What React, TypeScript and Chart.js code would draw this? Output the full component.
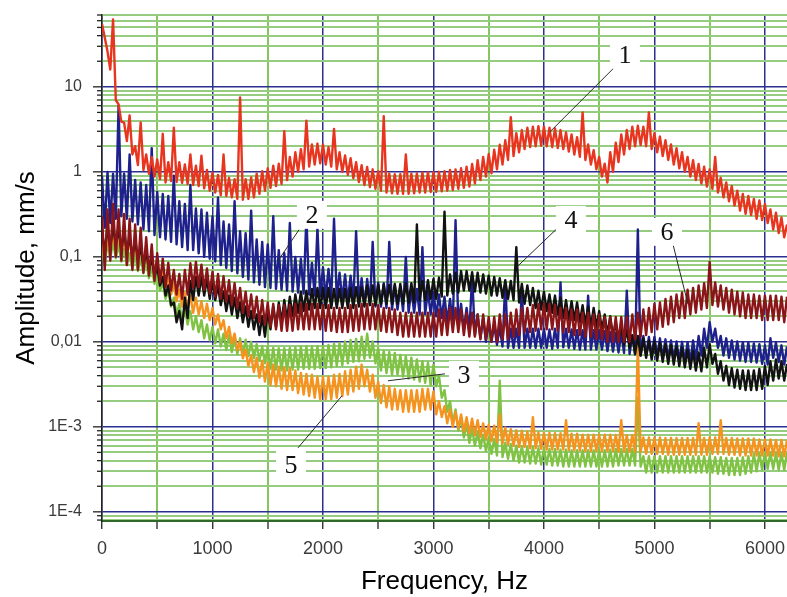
import { useEffect, useRef } from "react";
import { Chart, registerables } from "chart.js";

Chart.register(...registerables);

// Frequency grid, Hz
const frequencies = [
  0, 25, 50, 75, 100, 125, 150, 175, 200, 225, 250, 275, 300, 325, 350, 375, 400, 425, 450, 475,
  500, 525, 550, 575, 600, 625, 650, 675, 700, 725, 750, 775, 800, 825, 850, 875, 900, 925, 950, 975,
  1000, 1025, 1050, 1075, 1100, 1125, 1150, 1175, 1200, 1225, 1250, 1275, 1300, 1325, 1350, 1375, 1400, 1425, 1450, 1475,
  1500, 1525, 1550, 1575, 1600, 1625, 1650, 1675, 1700, 1725, 1750, 1775, 1800, 1825, 1850, 1875, 1900, 1925, 1950, 1975,
  2000, 2025, 2050, 2075, 2100, 2125, 2150, 2175, 2200, 2225, 2250, 2275, 2300, 2325, 2350, 2375, 2400, 2425, 2450, 2475,
  2500, 2525, 2550, 2575, 2600, 2625, 2650, 2675, 2700, 2725, 2750, 2775, 2800, 2825, 2850, 2875, 2900, 2925, 2950, 2975,
  3000, 3025, 3050, 3075, 3100, 3125, 3150, 3175, 3200, 3225, 3250, 3275, 3300, 3325, 3350, 3375, 3400, 3425, 3450, 3475,
  3500, 3525, 3550, 3575, 3600, 3625, 3650, 3675, 3700, 3725, 3750, 3775, 3800, 3825, 3850, 3875, 3900, 3925, 3950, 3975,
  4000, 4025, 4050, 4075, 4100, 4125, 4150, 4175, 4200, 4225, 4250, 4275, 4300, 4325, 4350, 4375, 4400, 4425, 4450, 4475,
  4500, 4525, 4550, 4575, 4600, 4625, 4650, 4675, 4700, 4725, 4750, 4775, 4800, 4825, 4850, 4875, 4900, 4925, 4950, 4975,
  5000, 5025, 5050, 5075, 5100, 5125, 5150, 5175, 5200, 5225, 5250, 5275, 5300, 5325, 5350, 5375, 5400, 5425, 5450, 5475,
  5500, 5525, 5550, 5575, 5600, 5625, 5650, 5675, 5700, 5725, 5750, 5775, 5800, 5825, 5850, 5875, 5900, 5925, 5950, 5975,
  6000, 6025, 6050, 6075, 6100, 6125, 6150, 6175, 6200,
];

// Amplitudes, mm/s
const curve1 = [
  55, 38, 26, 16, 62, 7, 6.2, 3.9, 3.8, 2.3, 4.6, 1.6, 2.0, 1.2, 3.8, 1.05, 1.6, 0.95, 1.5, 0.88,
  1.4, 0.82, 2.8, 0.75, 1.3, 0.78, 3.3, 0.76, 1.3, 0.74, 1.22, 0.72, 1.6, 0.7, 1.18, 0.68, 1.55, 0.64, 1.05, 0.6,
  0.98, 0.57, 0.92, 0.53, 1.6, 0.52, 0.85, 0.5, 0.82, 0.48, 7.5, 0.47, 0.82, 0.48, 0.86, 0.5, 0.95, 0.55, 1.02, 0.6,
  1.1, 0.65, 1.18, 0.68, 1.25, 0.72, 3.0, 0.8, 1.5, 0.88, 1.7, 1.0, 1.85, 1.07, 4.0, 1.15, 2.1, 1.22, 2.15, 1.26,
  2.1, 1.22, 1.95, 1.15, 3.2, 1.07, 1.7, 1.0, 1.56, 0.92, 1.45, 0.84, 1.3, 0.76, 1.2, 0.7, 1.14, 0.66, 1.07, 0.63,
  1.02, 0.6, 4.5, 0.57, 0.95, 0.56, 0.94, 0.55, 0.94, 0.55, 1.6, 0.55, 0.95, 0.56, 0.96, 0.57, 0.98, 0.57, 0.99, 0.58,
  0.99, 0.58, 1.0, 0.59, 1.02, 0.6, 1.05, 0.61, 1.07, 0.63, 1.1, 0.65, 1.15, 0.67, 1.24, 0.73, 1.37, 0.8, 1.5, 0.88,
  1.62, 0.96, 1.82, 1.07, 2.08, 1.22, 2.35, 1.38, 4.4, 1.53, 2.85, 1.7, 3.1, 1.85, 3.3, 1.95, 3.4, 2.0, 3.45, 2.03,
  3.4, 2.0, 3.3, 1.95, 3.25, 1.9, 3.1, 1.85, 2.9, 1.73, 2.75, 1.6, 2.55, 1.5, 5.0, 1.38, 2.1, 1.22, 1.8, 1.07,
  1.5, 0.88, 1.25, 0.75, 1.7, 1.0, 2.2, 1.3, 2.75, 1.6, 3.1, 1.85, 3.4, 2.0, 3.5, 2.07, 3.4, 2.0, 5.0, 1.85,
  2.85, 1.7, 2.6, 1.53, 2.35, 1.38, 2.1, 1.22, 1.9, 1.1, 1.7, 1.0, 1.5, 0.88, 1.37, 0.8, 1.24, 0.73, 1.15, 0.67,
  1.07, 0.63, 1.5, 0.57, 0.85, 0.5, 0.75, 0.45, 0.68, 0.4, 0.6, 0.35, 0.55, 0.32, 0.52, 0.31, 0.48, 0.28, 0.46, 0.27,
  0.42, 0.25, 0.36, 0.21, 0.33, 0.19, 0.29, 0.17, 0.24,
];

const curve2 = [
  0.9, 0.22, 1.0, 0.25, 0.95, 0.28, 6.0, 0.3, 0.95, 0.28, 1.6, 0.26, 0.8, 0.24, 0.75, 0.21, 0.7, 0.2, 1.9, 0.18,
  0.58, 0.17, 0.55, 0.16, 0.52, 0.15, 0.9, 0.14, 0.45, 0.13, 0.42, 0.12, 0.7, 0.12, 0.37, 0.11, 0.36, 0.1, 0.33, 0.095,
  0.3, 0.088, 0.5, 0.08, 0.26, 0.074, 0.24, 0.068, 0.45, 0.064, 0.2, 0.058, 0.19, 0.054, 0.35, 0.05, 0.16, 0.047, 0.15, 0.044,
  0.14, 0.043, 0.3, 0.042, 0.12, 0.041, 0.11, 0.04, 0.25, 0.039, 0.1, 0.038, 0.095, 0.037, 0.3, 0.036, 0.085, 0.035, 0.22, 0.034,
  0.075, 0.033, 0.072, 0.033, 0.28, 0.032, 0.065, 0.031, 0.062, 0.03, 0.06, 0.03, 0.2, 0.028, 0.056, 0.027, 0.055, 0.027, 0.15, 0.026,
  0.05, 0.026, 0.049, 0.025, 0.15, 0.024, 0.046, 0.024, 0.045, 0.023, 0.1, 0.022, 0.042, 0.022, 0.042, 0.021, 0.13, 0.021, 0.04, 0.021,
  0.039, 0.02, 0.036, 0.019, 0.034, 0.017, 0.032, 0.016, 0.27, 0.016, 0.028, 0.014, 0.025, 0.013, 0.06, 0.012, 0.021, 0.011, 0.019, 0.01,
  0.017, 0.01, 0.016, 0.0092, 0.015, 0.0088, 0.05, 0.0085, 0.0143, 0.0085, 0.0143, 0.0085, 0.04, 0.0085, 0.0143, 0.0085, 0.0143, 0.0085, 0.0143, 0.0085,
  0.0143, 0.0085, 0.014, 0.0083, 0.0143, 0.0085, 0.05, 0.0086, 0.0143, 0.0085, 0.014, 0.0083, 0.0137, 0.0081, 0.0137, 0.0081, 0.035, 0.0081, 0.0137, 0.0081,
  0.0137, 0.0081, 0.0133, 0.0078, 0.013, 0.0077, 0.0127, 0.0075, 0.0125, 0.0074, 0.04, 0.0072, 0.012, 0.0071, 0.21, 0.0069, 0.0117, 0.0069, 0.0114, 0.0068,
  0.0114, 0.0068, 0.011, 0.0065, 0.0107, 0.0063, 0.0104, 0.0062, 0.0101, 0.006, 0.01, 0.0059, 0.0099, 0.0058, 0.0104, 0.0062, 0.0117, 0.0069, 0.0143, 0.0085,
  0.017, 0.01, 0.0143, 0.0085, 0.0117, 0.0069, 0.011, 0.0065, 0.0104, 0.0062, 0.0101, 0.006, 0.0099, 0.0058, 0.0098, 0.0058, 0.0096, 0.0057, 0.0094, 0.0055,
  0.0091, 0.0054, 0.011, 0.0065, 0.0098, 0.0058, 0.0091, 0.0054, 0.0088,
];

const curve3 = [
  0.125, 0.08, 0.15, 0.096, 0.15, 0.096, 0.14, 0.088, 0.125, 0.08, 0.11, 0.072, 0.106, 0.068, 0.1, 0.064, 0.088, 0.056, 0.075, 0.048,
  0.063, 0.04, 0.05, 0.032, 0.04, 0.026, 0.033, 0.021, 0.028, 0.018, 0.025, 0.016, 0.023, 0.014, 0.02, 0.013, 0.018, 0.011, 0.016, 0.0104,
  0.015, 0.0096, 0.014, 0.0088, 0.0125, 0.008, 0.012, 0.0076, 0.0113, 0.0072, 0.011, 0.007, 0.0106, 0.0068, 0.01, 0.0064, 0.0094, 0.006, 0.0088, 0.0056,
  0.0088, 0.0048, 0.0085, 0.0047, 0.0084, 0.0046, 0.0084, 0.0046, 0.0085, 0.0047, 0.0086, 0.0047, 0.0088, 0.0048, 0.0088, 0.0048, 0.0088, 0.0048, 0.0089, 0.0049,
  0.0089, 0.0049, 0.0092, 0.005, 0.0095, 0.0052, 0.0097, 0.0053, 0.0101, 0.0056, 0.0105, 0.0058, 0.0108, 0.0059, 0.0115, 0.0063, 0.0125, 0.0065, 0.0101, 0.0056,
  0.0084, 0.0046, 0.0078, 0.0043, 0.0076, 0.0041, 0.0074, 0.0041, 0.007, 0.0039, 0.0068, 0.0037, 0.0065, 0.0036, 0.0062, 0.0034, 0.0059, 0.0033, 0.0057, 0.0031,
  0.0054, 0.003, 0.004, 0.0022, 0.0027, 0.0015, 0.002, 0.0011, 0.0016, 0.0009, 0.0013, 0.00075, 0.0011, 0.00065, 0.00095, 0.0006, 0.00088, 0.00056, 0.00081, 0.00052,
  0.00075, 0.00048, 0.00072, 0.00046, 0.0035, 0.00044, 0.00065, 0.00042, 0.00063, 0.0004, 0.0006, 0.00038, 0.00059, 0.00038, 0.00058, 0.00037, 0.00058, 0.00037, 0.00056, 0.00036,
  0.00056, 0.00036, 0.00055, 0.00035, 0.00055, 0.00035, 0.00054, 0.00034, 0.00054, 0.00034, 0.00053, 0.00034, 0.00053, 0.00034, 0.00053, 0.00034, 0.00053, 0.00034, 0.00053, 0.00034,
  0.00053, 0.00034, 0.00053, 0.00034, 0.00054, 0.00034, 0.00055, 0.00035, 0.00055, 0.00035, 0.00055, 0.00035, 0.00055, 0.00035, 0.0022, 0.00034, 0.00045, 0.00029, 0.00045, 0.00029,
  0.00045, 0.00029, 0.00045, 0.00029, 0.00045, 0.00029, 0.00045, 0.00029, 0.00045, 0.00029, 0.00045, 0.00029, 0.00045, 0.00029, 0.00045, 0.00029, 0.00045, 0.00029, 0.00045, 0.00029,
  0.00045, 0.00029, 0.00044, 0.00028, 0.00044, 0.00028, 0.00043, 0.00027, 0.00043, 0.00027, 0.00043, 0.00027, 0.00044, 0.00028, 0.00045, 0.00029, 0.00048, 0.0003, 0.00049, 0.00031,
  0.0005, 0.00032, 0.0005, 0.00032, 0.00049, 0.00031, 0.00049, 0.00031, 0.0005,
];

const curve4 = [
  0.2, 0.115, 0.22, 0.13, 0.23, 0.14, 0.21, 0.12, 0.2, 0.115, 0.17, 0.1, 0.16, 0.092, 0.13, 0.077, 0.12, 0.069, 0.098, 0.058,
  0.078, 0.046, 0.058, 0.035, 0.046, 0.027, 0.029, 0.017, 0.023, 0.014, 0.033, 0.019, 0.052, 0.031, 0.058, 0.035, 0.058, 0.035, 0.055, 0.032,
  0.052, 0.031, 0.046, 0.027, 0.039, 0.023, 0.035, 0.021, 0.033, 0.019, 0.029, 0.017, 0.026, 0.015, 0.023, 0.014, 0.021, 0.012, 0.02, 0.0115,
  0.023, 0.014, 0.026, 0.015, 0.029, 0.017, 0.031, 0.018, 0.034, 0.02, 0.036, 0.022, 0.039, 0.023, 0.04, 0.024, 0.042, 0.025, 0.043, 0.025,
  0.043, 0.025, 0.043, 0.025, 0.042, 0.025, 0.042, 0.025, 0.042, 0.025, 0.043, 0.025, 0.044, 0.026, 0.044, 0.026, 0.046, 0.027, 0.046, 0.027,
  0.047, 0.028, 0.047, 0.028, 0.047, 0.028, 0.048, 0.028, 0.048, 0.028, 0.049, 0.029, 0.049, 0.029, 0.24, 0.031, 0.052, 0.031, 0.053, 0.032,
  0.055, 0.032, 0.057, 0.034, 0.34, 0.035, 0.062, 0.037, 0.065, 0.038, 0.068, 0.04, 0.068, 0.04, 0.066, 0.039, 0.065, 0.038, 0.062, 0.037,
  0.06, 0.035, 0.058, 0.035, 0.056, 0.033, 0.053, 0.032, 0.052, 0.031, 0.13, 0.029, 0.048, 0.028, 0.046, 0.027, 0.043, 0.025, 0.04, 0.024,
  0.039, 0.023, 0.036, 0.022, 0.035, 0.021, 0.033, 0.019, 0.031, 0.018, 0.03, 0.018, 0.029, 0.017, 0.027, 0.016, 0.026, 0.015, 0.025, 0.015,
  0.023, 0.014, 0.021, 0.012, 0.02, 0.0115, 0.017, 0.01, 0.016, 0.0092, 0.014, 0.0085, 0.012, 0.0073, 0.0117, 0.0069, 0.011, 0.0065, 0.0104, 0.0062,
  0.0101, 0.006, 0.0098, 0.0058, 0.0094, 0.0055, 0.0091, 0.0054, 0.0088, 0.0052, 0.0085, 0.005, 0.0081, 0.0048, 0.0078, 0.0046, 0.0075, 0.0045, 0.0085, 0.005,
  0.0094, 0.0055, 0.0072, 0.0042, 0.0059, 0.0035, 0.0052, 0.0031, 0.0049, 0.0029, 0.0047, 0.0028, 0.0046, 0.0027, 0.0046, 0.0027, 0.0046, 0.0027, 0.0048, 0.0028,
  0.0052, 0.0031, 0.0059, 0.0035, 0.0062, 0.0037, 0.0059, 0.0035, 0.0055,
];

const curve5 = [
  0.15, 0.096, 0.175, 0.112, 0.19, 0.12, 0.175, 0.112, 0.16, 0.104, 0.15, 0.096, 0.14, 0.088, 0.125, 0.08, 0.11, 0.072, 0.1, 0.064,
  0.081, 0.052, 0.069, 0.044, 0.056, 0.036, 0.048, 0.03, 0.041, 0.026, 0.038, 0.024, 0.035, 0.022, 0.033, 0.021, 0.03, 0.019, 0.028, 0.018,
  0.025, 0.016, 0.021, 0.014, 0.018, 0.011, 0.015, 0.0096, 0.0125, 0.008, 0.01, 0.0064, 0.0081, 0.0052, 0.0069, 0.0044, 0.0065, 0.0038, 0.006, 0.0034,
  0.0057, 0.0031, 0.0054, 0.003, 0.0051, 0.0028, 0.005, 0.0027, 0.0049, 0.0027, 0.0046, 0.0025, 0.0043, 0.0024, 0.0042, 0.0023, 0.0041, 0.0022, 0.0039, 0.0021,
  0.0039, 0.0021, 0.0039, 0.0021, 0.0041, 0.0022, 0.0042, 0.0023, 0.0045, 0.0024, 0.0047, 0.0026, 0.0051, 0.0028, 0.0054, 0.003, 0.0047, 0.0026, 0.0041, 0.0022,
  0.0034, 0.0019, 0.0031, 0.0017, 0.003, 0.0016, 0.0028, 0.0016, 0.0027, 0.0015, 0.0027, 0.0015, 0.0027, 0.0015, 0.0027, 0.0015, 0.0028, 0.0016, 0.0028, 0.0016,
  0.0026, 0.0014, 0.002, 0.0013, 0.00175, 0.0011, 0.0016, 0.001, 0.0015, 0.00096, 0.0014, 0.00088, 0.0013, 0.00084, 0.00125, 0.0008, 0.0012, 0.00076, 0.0011, 0.00072,
  0.00106, 0.00068, 0.00103, 0.00066, 0.0014, 0.00064, 0.00098, 0.00062, 0.00094, 0.0006, 0.00091, 0.00058, 0.0009, 0.00058, 0.00088, 0.00056, 0.0013, 0.00056, 0.00086, 0.00055,
  0.00085, 0.00054, 0.00085, 0.00054, 0.00084, 0.00054, 0.00084, 0.00054, 0.0012, 0.00053, 0.00083, 0.00053, 0.00083, 0.00053, 0.00081, 0.00052, 0.00081, 0.00052, 0.00081, 0.00052,
  0.00081, 0.00052, 0.00081, 0.00052, 0.00081, 0.00052, 0.0008, 0.00051, 0.0012, 0.00051, 0.0008, 0.00051, 0.0008, 0.00051, 0.0095, 0.00051, 0.00075, 0.00048, 0.00075, 0.00048,
  0.00075, 0.00048, 0.00075, 0.00048, 0.00074, 0.00047, 0.00074, 0.00047, 0.00074, 0.00047, 0.00074, 0.00047, 0.00074, 0.00047, 0.00074, 0.00047, 0.0011, 0.00047, 0.00074, 0.00047,
  0.00075, 0.00048, 0.00075, 0.00048, 0.0012, 0.00048, 0.00074, 0.00047, 0.00074, 0.00047, 0.00073, 0.00046, 0.00073, 0.00046, 0.00073, 0.00046, 0.00073, 0.00046, 0.00071, 0.00046,
  0.00071, 0.00046, 0.00071, 0.00046, 0.0007, 0.00045, 0.0007, 0.00045, 0.0007,
];

const curve6 = [
  0.3, 0.07, 0.36, 0.09, 0.42, 0.1, 0.36, 0.09, 0.32, 0.08, 0.28, 0.07, 0.24, 0.07, 0.22, 0.065, 0.17, 0.06, 0.14, 0.052,
  0.11, 0.05, 0.095, 0.044, 0.085, 0.04, 0.07, 0.036, 0.063, 0.032, 0.07, 0.036, 0.084, 0.043, 0.087, 0.044, 0.081, 0.041, 0.073, 0.037,
  0.067, 0.034, 0.063, 0.032, 0.059, 0.03, 0.053, 0.027, 0.049, 0.025, 0.043, 0.022, 0.039, 0.02, 0.036, 0.019, 0.034, 0.017, 0.031, 0.016,
  0.029, 0.015, 0.028, 0.014, 0.027, 0.0135, 0.027, 0.0135, 0.027, 0.0135, 0.028, 0.014, 0.028, 0.014, 0.028, 0.014, 0.028, 0.014, 0.028, 0.014,
  0.027, 0.0135, 0.027, 0.0135, 0.025, 0.013, 0.025, 0.013, 0.025, 0.013, 0.027, 0.0135, 0.027, 0.0135, 0.028, 0.014, 0.028, 0.014, 0.028, 0.014,
  0.027, 0.0135, 0.025, 0.013, 0.025, 0.013, 0.024, 0.012, 0.022, 0.0115, 0.022, 0.0115, 0.022, 0.0115, 0.022, 0.0115, 0.022, 0.0115, 0.022, 0.0115,
  0.022, 0.0115, 0.024, 0.012, 0.024, 0.012, 0.025, 0.013, 0.025, 0.013, 0.024, 0.012, 0.022, 0.0115, 0.022, 0.0115, 0.021, 0.0107, 0.021, 0.0107,
  0.0196, 0.01, 0.0196, 0.01, 0.021, 0.0107, 0.021, 0.0107, 0.022, 0.0115, 0.024, 0.012, 0.025, 0.013, 0.025, 0.013, 0.027, 0.0135, 0.028, 0.014,
  0.028, 0.014, 0.028, 0.014, 0.027, 0.0135, 0.025, 0.013, 0.025, 0.013, 0.024, 0.012, 0.024, 0.012, 0.022, 0.0115, 0.022, 0.0115, 0.021, 0.0107,
  0.021, 0.0107, 0.0196, 0.01, 0.0196, 0.01, 0.0196, 0.01, 0.0196, 0.01, 0.0196, 0.01, 0.021, 0.0107, 0.022, 0.0115, 0.024, 0.012, 0.025, 0.013,
  0.028, 0.014, 0.029, 0.015, 0.032, 0.016, 0.034, 0.017, 0.036, 0.019, 0.038, 0.019, 0.041, 0.021, 0.043, 0.022, 0.046, 0.024, 0.049, 0.025,
  0.087, 0.027, 0.05, 0.026, 0.046, 0.024, 0.043, 0.022, 0.041, 0.021, 0.039, 0.02, 0.038, 0.019, 0.036, 0.019, 0.036, 0.019, 0.035, 0.018,
  0.035, 0.018, 0.035, 0.018, 0.035, 0.018, 0.034, 0.017, 0.034,
];

// Drawing order: first is on top
const curveNames = ["1", "6", "4", "2", "5", "3"];
const curveValues = [curve1, curve6, curve4, curve2, curve5, curve3];
const curveColors = ["#e8351f", "#8a1518", "#121212", "#1e208c", "#f6921e", "#80c243"];

// Axis ticks
const xTickValues = [0, 500, 1000, 1500, 2000, 2500, 3000, 3500, 4000, 4500, 5000, 5500, 6000];
const yTickValues = [
  8e-5, 9e-5,
  1e-4, 2e-4, 3e-4, 4e-4, 5e-4, 6e-4, 7e-4, 8e-4, 9e-4,
  1e-3, 2e-3, 3e-3, 4e-3, 5e-3, 6e-3, 7e-3, 8e-3, 9e-3,
  0.01, 0.02, 0.03, 0.04, 0.05, 0.06, 0.07, 0.08, 0.09,
  0.1, 0.2, 0.3, 0.4, 0.5, 0.6, 0.7, 0.8, 0.9,
  1, 2, 3, 4, 5, 6, 7, 8, 9,
  10, 20, 30, 40, 50, 60, 70,
];
const yLabelValues = [1e-4, 1e-3, 0.01, 0.1, 1, 10];
const yLabelTexts = ["1E-4", "1E-3", "0,01", "0,1", "1", "10"];

// Curve number callouts (data coordinates)
const calloutTexts = ["1", "2", "3", "4", "5", "6"];
const calloutFreq = [4733, 1900, 3276, 4244, 1710, 5113];
const calloutAmp = [23.8, 0.312, 0.00409, 0.272, 0.000357, 0.197];
const leaderFromFreq = [4643, 1783, 3104, 4154, 1774, 5167];
const leaderFromAmp = [17.2, 0.208, 0.0042, 0.238, 0.000566, 0.142];
const leaderToFreq = [4054, 1593, 2588, 3756, 2172, 5303];
const leaderToAmp = [2.95, 0.0897, 0.00348, 0.0763, 0.00232, 0.028];

const SANS = '"Liberation Sans", Arial, sans-serif';
const SERIF = '"Liberation Serif", "Times New Roman", serif';

const yTickMarks = {
  id: "yTickMarks",
  afterDraw(chart: any) {
    const { ctx, chartArea } = chart;
    const y = chart.scales.y;
    ctx.save();
    ctx.strokeStyle = "#222";
    ctx.lineWidth = 1.3;
    y.ticks.forEach((t: any) => {
      const py = y.getPixelForValue(t.value);
      const len = yLabelValues.includes(t.value) ? 9 : 5;
      ctx.beginPath();
      ctx.moveTo(chartArea.left - len, py);
      ctx.lineTo(chartArea.left, py);
      ctx.stroke();
    });
    ctx.restore();
  },
};

const callouts = {
  id: "callouts",
  afterDatasetsDraw(chart: any) {
    const { ctx } = chart;
    const { x, y } = chart.scales;
    ctx.save();
    ctx.strokeStyle = "#2a2a2a";
    ctx.lineWidth = 1;
    for (let i = 0; i < calloutTexts.length; i++) {
      ctx.beginPath();
      ctx.moveTo(x.getPixelForValue(leaderFromFreq[i]), y.getPixelForValue(leaderFromAmp[i]));
      ctx.lineTo(x.getPixelForValue(leaderToFreq[i]), y.getPixelForValue(leaderToAmp[i]));
      ctx.stroke();
    }
    ctx.font = `26px ${SERIF}`;
    ctx.textAlign = "center";
    ctx.textBaseline = "middle";
    for (let i = 0; i < calloutTexts.length; i++) {
      const px = x.getPixelForValue(calloutFreq[i]);
      const py = y.getPixelForValue(calloutAmp[i]);
      ctx.fillStyle = "#ffffff";
      ctx.fillRect(px - 15, py - 14, 30, 28);
      ctx.fillStyle = "#111";
      ctx.fillText(calloutTexts[i], px, py + 1);
    }
    ctx.restore();
  },
};

export default function App() {
  const canvasRef = useRef<HTMLCanvasElement | null>(null);

  useEffect(() => {
    const canvas = canvasRef.current;
    if (!canvas) return;
    const chart = new Chart(canvas, {
      type: "line",
      data: {
        datasets: curveValues.map((vals, k) => ({
          label: curveNames[k],
          data: frequencies.map((f, i) => ({ x: f, y: vals[i] })),
          borderColor: curveColors[k],
          backgroundColor: curveColors[k],
          borderWidth: 2.4,
          borderJoinStyle: "round" as const,
          pointRadius: 0,
          tension: 0,
          fill: false,
        })),
      },
      options: {
        animation: false,
        responsive: false,
        events: [],
        layout: { padding: { top: 15, right: 0, left: 0, bottom: 0 } },
        plugins: {
          legend: { display: false },
          tooltip: { enabled: false },
        },
        scales: {
          x: {
            type: "linear",
            min: 0,
            max: 6200,
            afterBuildTicks: (scale: any) => {
              scale.ticks = xTickValues.map((v) => ({ value: v }));
            },
            afterFit: (scale: any) => {
              scale.height = 76;
              scale.paddingLeft = 0;
              scale.paddingRight = 0;
            },
            ticks: {
              autoSkip: false,
              maxRotation: 0,
              padding: 9,
              color: "#3a3a3a",
              font: { family: SANS, size: 18 },
              callback: (v: any) => (Number(v) % 1000 === 0 ? String(v) : ""),
            },
            grid: {
              color: (c: any) => (c.tick && c.tick.value % 1000 === 0 ? "#2b2f8f" : "#86c560"),
              lineWidth: (c: any) => (c.tick && c.tick.value % 1000 === 0 ? 1.5 : 2),
              drawTicks: true,
              tickLength: 8,
              tickColor: "#222",
              tickWidth: 1.3,
            },
            border: { display: true, color: "#2f6a2a", width: 2 },
            title: {
              display: true,
              text: "Frequency, Hz",
              color: "#000",
              font: { family: SANS, size: 26 },
              padding: { top: 0, bottom: 0 },
            },
          },
          y: {
            type: "logarithmic",
            min: 7.8e-5,
            max: 70,
            afterBuildTicks: (scale: any) => {
              scale.ticks = yTickValues.map((v) => ({ value: v }));
            },
            afterFit: (scale: any) => {
              scale.width = 102;
              scale.paddingTop = 0;
              scale.paddingBottom = 0;
            },
            ticks: {
              autoSkip: false,
              padding: 20,
              color: "#3a3a3a",
              font: { family: SANS, size: 16 },
              callback: (v: any) => {
                const k = yLabelValues.indexOf(Number(v));
                return k >= 0 ? yLabelTexts[k] : "";
              },
            },
            grid: {
              color: (c: any) => (c.tick && yLabelValues.includes(c.tick.value) ? "#2b2f8f" : "#95cc80"),
              lineWidth: (c: any) => (c.tick && yLabelValues.includes(c.tick.value) ? 1.5 : 2),
              drawTicks: false,
            },
            border: { display: true, color: "#222", width: 1.5 },
            title: {
              display: true,
              text: "Amplitude, mm/s",
              color: "#000",
              font: { family: SANS, size: 26 },
              padding: { top: 11, bottom: 0 },
            },
          },
        },
      },
      plugins: [yTickMarks, callouts],
    });
    return () => chart.destroy();
  }, []);

  return (
    <div style={{ position: "fixed", left: 0, top: 0, width: 787, height: 597, background: "#fff" }}>
      <canvas ref={canvasRef} width={787} height={597} />
    </div>
  );
}
